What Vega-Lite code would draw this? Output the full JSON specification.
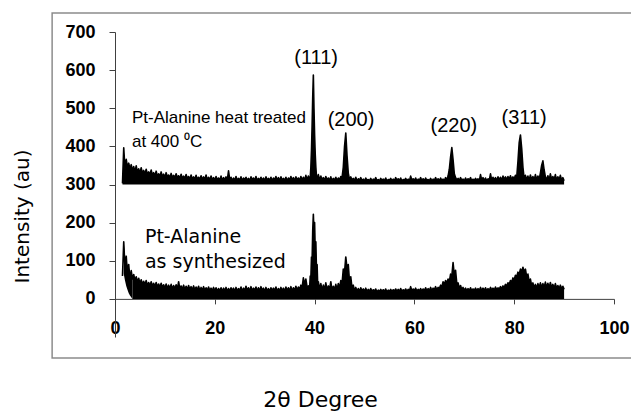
{
"$schema": "https://vega.github.io/schema/vega-lite/v6.json",
"width": 499, "height": 305,
"autosize": {"type": "none"},
"padding": {"left": 115, "top": 32, "right": 17, "bottom": 74},
"background": "white",
"config": {"view": {"stroke": null}, "axis": {"grid": false, "ticks": true, "tickWidth": 1, "domainWidth": 1, "domainColor": "#404040", "tickColor": "#404040", "labelColor": "#000000", "titleColor": "#000000", "labelFont": "Liberation Sans", "labelFontWeight": "bold", "labelFontSize": 18, "labelOverlap": false, "labelBound": false, "titleFont": "DejaVu Sans", "titleFontWeight": "normal"}},
"datasets": {
"xrd": [
{"x":1.5,"a":303,"b":60},{"x":1.75,"a":396,"b":150},{"x":2,"a":340,"b":80},{"x":2.25,"a":366,"b":112},{"x":2.5,"a":345,"b":62},{"x":2.75,"a":356,"b":90},
{"x":3,"a":340,"b":48},{"x":3.25,"a":352,"b":74},{"x":3.5,"a":336,"b":52},{"x":3.75,"a":347,"b":64},
{"x":4,"a":334,"b":48},{"x":4.25,"a":349,"b":58},{"x":4.5,"a":332,"b":44},{"x":4.75,"a":341,"b":54},
{"x":5,"a":330,"b":40},{"x":5.25,"a":344,"b":50},{"x":5.5,"a":328,"b":38},{"x":5.75,"a":337,"b":46},
{"x":6,"a":327,"b":36},{"x":6.25,"a":340,"b":48},{"x":6.5,"a":326,"b":35},{"x":6.75,"a":333,"b":43},
{"x":7,"a":325,"b":34},{"x":7.25,"a":338,"b":45},{"x":7.5,"a":324,"b":33},{"x":7.75,"a":331,"b":41},
{"x":8,"a":323,"b":32},{"x":8.25,"a":335,"b":43},{"x":8.5,"a":322,"b":31},{"x":8.75,"a":328,"b":39},
{"x":9,"a":321,"b":30},{"x":9.25,"a":333,"b":41},{"x":9.5,"a":320,"b":29},{"x":9.75,"a":327,"b":37},
{"x":10,"a":319,"b":28},{"x":10.25,"a":331,"b":39},{"x":10.5,"a":319,"b":27},{"x":10.75,"a":325,"b":36},
{"x":11,"a":318,"b":27},{"x":11.25,"a":329,"b":38},{"x":11.5,"a":318,"b":26},{"x":11.75,"a":324,"b":35},
{"x":12,"a":317,"b":26},{"x":12.25,"a":328,"b":37},{"x":12.5,"a":317,"b":25},{"x":12.75,"a":323,"b":45},
{"x":13,"a":316,"b":25},{"x":13.25,"a":327,"b":34},{"x":13.5,"a":316,"b":25},{"x":13.75,"a":322,"b":36},
{"x":14,"a":315,"b":24},{"x":14.25,"a":326,"b":33},{"x":14.5,"a":315,"b":24},{"x":14.75,"a":321,"b":35},
{"x":15,"a":314,"b":24},{"x":15.25,"a":325,"b":32},{"x":15.5,"a":314,"b":23},{"x":15.75,"a":320,"b":34},
{"x":16,"a":314,"b":23},{"x":16.25,"a":324,"b":31},{"x":16.5,"a":313,"b":23},{"x":16.75,"a":319,"b":33},
{"x":17,"a":313,"b":22},{"x":17.25,"a":323,"b":30},{"x":17.5,"a":313,"b":22},{"x":17.75,"a":320,"b":32},
{"x":18,"a":312,"b":22},{"x":18.25,"a":325,"b":29},{"x":18.5,"a":312,"b":22},{"x":18.75,"a":319,"b":31},
{"x":19,"a":312,"b":21},{"x":19.25,"a":322,"b":28},{"x":19.5,"a":312,"b":21},{"x":19.75,"a":318,"b":30},
{"x":20,"a":311,"b":21},{"x":20.25,"a":321,"b":29},{"x":20.5,"a":312,"b":20},{"x":20.75,"a":317,"b":27},
{"x":21,"a":311,"b":22},{"x":21.25,"a":322,"b":29},{"x":21.5,"a":310,"b":20},{"x":21.75,"a":318,"b":28},
{"x":22,"a":312,"b":21},{"x":22.25,"a":320,"b":30},{"x":22.5,"a":311,"b":20},{"x":22.75,"a":336,"b":27},
{"x":23,"a":312,"b":21},{"x":23.25,"a":319,"b":29},{"x":23.5,"a":310,"b":22},{"x":23.75,"a":317,"b":28},
{"x":24,"a":311,"b":20},{"x":24.25,"a":321,"b":30},{"x":24.5,"a":312,"b":21},{"x":24.75,"a":316,"b":27},
{"x":25,"a":311,"b":22},{"x":25.25,"a":320,"b":31},{"x":25.5,"a":310,"b":20},{"x":25.75,"a":317,"b":28},
{"x":26,"a":312,"b":21},{"x":26.25,"a":319,"b":33},{"x":26.5,"a":311,"b":22},{"x":26.75,"a":316,"b":29},
{"x":27,"a":310,"b":20},{"x":27.25,"a":320,"b":32},{"x":27.5,"a":312,"b":21},{"x":27.75,"a":317,"b":28},
{"x":28,"a":311,"b":22},{"x":28.25,"a":321,"b":31},{"x":28.5,"a":310,"b":20},{"x":28.75,"a":316,"b":29},
{"x":29,"a":312,"b":21},{"x":29.25,"a":319,"b":32},{"x":29.5,"a":311,"b":22},{"x":29.75,"a":317,"b":28},
{"x":30,"a":310,"b":20},{"x":30.25,"a":320,"b":30},{"x":30.5,"a":312,"b":21},{"x":30.75,"a":316,"b":27},
{"x":31,"a":311,"b":20},{"x":31.25,"a":319,"b":29},{"x":31.5,"a":310,"b":22},{"x":31.75,"a":317,"b":28},
{"x":32,"a":312,"b":21},{"x":32.25,"a":321,"b":31},{"x":32.5,"a":311,"b":20},{"x":32.75,"a":318,"b":27},
{"x":33,"a":310,"b":22},{"x":33.25,"a":320,"b":30},{"x":33.5,"a":312,"b":21},{"x":33.75,"a":316,"b":28},
{"x":34,"a":311,"b":20},{"x":34.25,"a":319,"b":31},{"x":34.5,"a":310,"b":22},{"x":34.75,"a":317,"b":29},
{"x":35,"a":312,"b":21},{"x":35.25,"a":321,"b":32},{"x":35.5,"a":311,"b":20},{"x":35.75,"a":318,"b":29},
{"x":36,"a":310,"b":22},{"x":36.25,"a":320,"b":33},{"x":36.5,"a":312,"b":23},{"x":36.75,"a":317,"b":31},
{"x":37,"a":311,"b":25},{"x":37.25,"a":321,"b":36},{"x":37.5,"a":312,"b":30},{"x":37.75,"a":319,"b":55},
{"x":38,"a":311,"b":38},{"x":38.25,"a":324,"b":52},{"x":38.5,"a":312,"b":30},{"x":38.75,"a":322,"b":34},
{"x":39,"a":314,"b":28},{"x":39.125,"a":318,"b":60},{"x":39.25,"a":345,"b":55},{"x":39.375,"a":390,"b":110},
{"x":39.5,"a":455,"b":100},{"x":39.625,"a":530,"b":180},{"x":39.75,"a":587,"b":222},{"x":39.875,"a":500,"b":175},
{"x":40,"a":430,"b":200},{"x":40.125,"a":380,"b":125},{"x":40.25,"a":345,"b":150},{"x":40.375,"a":322,"b":75},
{"x":40.5,"a":314,"b":90},{"x":40.625,"a":320,"b":35},{"x":40.75,"a":326,"b":45},
{"x":41,"a":311,"b":24},{"x":41.25,"a":322,"b":40},{"x":41.5,"a":312,"b":22},{"x":41.75,"a":318,"b":36},
{"x":42,"a":310,"b":25},{"x":42.25,"a":321,"b":42},{"x":42.5,"a":312,"b":23},{"x":42.75,"a":317,"b":34},
{"x":43,"a":311,"b":24},{"x":43.25,"a":320,"b":45},{"x":43.5,"a":310,"b":22},{"x":43.75,"a":316,"b":33},
{"x":44,"a":312,"b":25},{"x":44.25,"a":319,"b":38},{"x":44.5,"a":311,"b":24},{"x":44.75,"a":317,"b":40},
{"x":45,"a":312,"b":28},{"x":45.25,"a":321,"b":48},{"x":45.5,"a":318,"b":40},{"x":45.75,"a":345,"b":78},
{"x":46,"a":400,"b":70},{"x":46.25,"a":435,"b":110},{"x":46.5,"a":375,"b":80},{"x":46.75,"a":330,"b":90},
{"x":47,"a":312,"b":45},{"x":47.25,"a":320,"b":58},{"x":47.5,"a":311,"b":28},{"x":47.75,"a":316,"b":36},
{"x":48,"a":310,"b":21},{"x":48.25,"a":319,"b":30},{"x":48.5,"a":309,"b":20},{"x":48.75,"a":315,"b":27},
{"x":49,"a":311,"b":19},{"x":49.25,"a":318,"b":29},{"x":49.5,"a":310,"b":21},{"x":49.75,"a":314,"b":26},
{"x":50,"a":309,"b":20},{"x":50.25,"a":317,"b":28},{"x":50.5,"a":311,"b":19},{"x":50.75,"a":313,"b":25},
{"x":51,"a":310,"b":20},{"x":51.25,"a":316,"b":27},{"x":51.5,"a":309,"b":19},{"x":51.75,"a":314,"b":24},
{"x":52,"a":311,"b":20},{"x":52.25,"a":318,"b":26},{"x":52.5,"a":310,"b":18},{"x":52.75,"a":313,"b":23},
{"x":53,"a":309,"b":19},{"x":53.25,"a":316,"b":25},{"x":53.5,"a":311,"b":20},{"x":53.75,"a":314,"b":24},
{"x":54,"a":310,"b":19},{"x":54.25,"a":317,"b":26},{"x":54.5,"a":309,"b":18},{"x":54.75,"a":313,"b":23},
{"x":55,"a":311,"b":20},{"x":55.25,"a":316,"b":25},{"x":55.5,"a":310,"b":19},{"x":55.75,"a":314,"b":24},
{"x":56,"a":309,"b":20},{"x":56.25,"a":318,"b":26},{"x":56.5,"a":311,"b":19},{"x":56.75,"a":315,"b":25},
{"x":57,"a":310,"b":20},{"x":57.25,"a":317,"b":27},{"x":57.5,"a":309,"b":19},{"x":57.75,"a":313,"b":24},
{"x":58,"a":311,"b":20},{"x":58.25,"a":316,"b":26},{"x":58.5,"a":310,"b":19},{"x":58.75,"a":314,"b":25},
{"x":59,"a":309,"b":21},{"x":59.25,"a":322,"b":32},{"x":59.5,"a":311,"b":20},{"x":59.75,"a":315,"b":26},
{"x":60,"a":310,"b":21},{"x":60.25,"a":317,"b":28},{"x":60.5,"a":309,"b":20},{"x":60.75,"a":314,"b":25},
{"x":61,"a":311,"b":21},{"x":61.25,"a":318,"b":27},{"x":61.5,"a":310,"b":20},{"x":61.75,"a":315,"b":26},
{"x":62,"a":309,"b":22},{"x":62.25,"a":317,"b":29},{"x":62.5,"a":311,"b":21},{"x":62.75,"a":313,"b":27},
{"x":63,"a":310,"b":22},{"x":63.25,"a":316,"b":30},{"x":63.5,"a":309,"b":21},{"x":63.75,"a":314,"b":28},
{"x":64,"a":311,"b":24},{"x":64.25,"a":318,"b":32},{"x":64.5,"a":310,"b":23},{"x":64.75,"a":315,"b":30},
{"x":65,"a":309,"b":27},{"x":65.25,"a":317,"b":36},{"x":65.5,"a":311,"b":32},{"x":65.75,"a":314,"b":45},
{"x":66,"a":310,"b":38},{"x":66.25,"a":318,"b":48},{"x":66.5,"a":312,"b":42},{"x":66.75,"a":322,"b":52},
{"x":67,"a":340,"b":45},{"x":67.25,"a":372,"b":65},{"x":67.5,"a":397,"b":60},{"x":67.75,"a":365,"b":95},
{"x":68,"a":328,"b":62},{"x":68.25,"a":318,"b":75},{"x":68.5,"a":312,"b":40},{"x":68.75,"a":316,"b":42},
{"x":69,"a":310,"b":28},{"x":69.25,"a":318,"b":35},{"x":69.5,"a":311,"b":24},{"x":69.75,"a":314,"b":30},
{"x":70,"a":309,"b":22},{"x":70.25,"a":317,"b":28},{"x":70.5,"a":310,"b":21},{"x":70.75,"a":315,"b":27},
{"x":71,"a":311,"b":22},{"x":71.25,"a":318,"b":29},{"x":71.5,"a":309,"b":21},{"x":71.75,"a":314,"b":26},
{"x":72,"a":310,"b":22},{"x":72.25,"a":316,"b":28},{"x":72.5,"a":311,"b":21},{"x":72.75,"a":315,"b":27},
{"x":73,"a":309,"b":22},{"x":73.25,"a":326,"b":30},{"x":73.5,"a":311,"b":21},{"x":73.75,"a":318,"b":28},
{"x":74,"a":310,"b":22},{"x":74.25,"a":317,"b":29},{"x":74.5,"a":309,"b":21},{"x":74.75,"a":315,"b":27},
{"x":75,"a":311,"b":22},{"x":75.25,"a":328,"b":30},{"x":75.5,"a":310,"b":23},{"x":75.75,"a":319,"b":28},
{"x":76,"a":312,"b":22},{"x":76.25,"a":318,"b":31},{"x":76.5,"a":310,"b":24},{"x":76.75,"a":320,"b":29},
{"x":77,"a":312,"b":25},{"x":77.25,"a":319,"b":32},{"x":77.5,"a":311,"b":27},{"x":77.75,"a":322,"b":34},
{"x":78,"a":313,"b":30},{"x":78.25,"a":320,"b":38},{"x":78.5,"a":312,"b":34},{"x":78.75,"a":321,"b":42},
{"x":79,"a":314,"b":38},{"x":79.25,"a":323,"b":48},{"x":79.5,"a":312,"b":44},{"x":79.75,"a":320,"b":55},
{"x":80,"a":315,"b":50},{"x":80.25,"a":324,"b":62},{"x":80.5,"a":318,"b":58},{"x":80.75,"a":360,"b":70},
{"x":81,"a":410,"b":65},{"x":81.25,"a":430,"b":78},{"x":81.5,"a":395,"b":72},{"x":81.75,"a":345,"b":83},
{"x":82,"a":315,"b":70},{"x":82.25,"a":324,"b":78},{"x":82.5,"a":312,"b":58},{"x":82.75,"a":322,"b":65},
{"x":83,"a":311,"b":45},{"x":83.25,"a":325,"b":52},{"x":83.5,"a":312,"b":35},{"x":83.75,"a":321,"b":42},
{"x":84,"a":311,"b":28},{"x":84.25,"a":326,"b":38},{"x":84.5,"a":312,"b":28},{"x":84.75,"a":322,"b":40},
{"x":85,"a":313,"b":29},{"x":85.25,"a":330,"b":42},{"x":85.5,"a":350,"b":30},{"x":85.75,"a":362,"b":40},
{"x":86,"a":338,"b":30},{"x":86.25,"a":320,"b":44},{"x":86.5,"a":312,"b":29},{"x":86.75,"a":323,"b":41},
{"x":87,"a":311,"b":28},{"x":87.25,"a":328,"b":43},{"x":87.5,"a":313,"b":29},{"x":87.75,"a":321,"b":38},
{"x":88,"a":312,"b":27},{"x":88.25,"a":326,"b":40},{"x":88.5,"a":311,"b":28},{"x":88.75,"a":320,"b":35},
{"x":89,"a":312,"b":26},{"x":89.25,"a":324,"b":36},{"x":89.5,"a":311,"b":27},{"x":89.75,"a":318,"b":33},
{"x":90,"a":310,"b":25}
],
"start": [
{"x":1.75,"t":150,"u":66},{"x":2,"t":112,"u":48},{"x":2.25,"t":100,"u":34},{"x":2.5,"t":90,"u":24},
{"x":2.75,"t":82,"u":15},{"x":3,"t":74,"u":9},{"x":3.25,"t":66,"u":4},{"x":3.5,"t":60,"u":0}
],
"peaks": [
{"x":40.3,"y":632,"t":"(111)"},
{"x":47.3,"y":469,"t":"(200)"},
{"x":67.9,"y":454,"t":"(220)"},
{"x":82.0,"y":475,"t":"(311)"}
],
"heat": [
{"x":3.4,"y":475,"t":"Pt-Alanine heat treated"},
{"x":3.4,"y":412,"t":"at 400 ⁰C"}
],
"synth": [
{"x":6.0,"y":162.6,"t":"Pt-Alanine"},
{"x":6.0,"y":97,"t":"as synthesized"}
]
},
"layer": [
{"data": {"name": "xrd"},
 "transform": [{"fold": ["a", "b"], "as": ["s", "y"]}],
 "mark": {"type": "line", "color": "#000000", "strokeWidth": 1.6, "strokeJoin": "round"},
 "encoding": {
 "x": {"field": "x", "type": "quantitative", "scale": {"domain": [0, 100], "nice": false, "zero": false},
  "axis": {"title": "2θ Degree", "values": [0, 20, 40, 60, 80, 100], "offset": -38.125, "ticks": true, "tickSize": 5, "labelPadding": 16, "labelFlush": false, "labelOverlap": false, "titleFontSize": 22, "titleX": 205, "titleY": 101, "titleBaseline": "middle"}},
 "y": {"field": "y", "type": "quantitative", "scale": {"domain": [-100, 700], "nice": false, "zero": false},
  "axis": {"title": "Intensity (au)", "values": [0, 100, 200, 300, 400, 500, 600, 700], "ticks": true, "tickSize": 6, "labelPadding": 14, "labelOverlap": false, "titleFontSize": 20, "titleX": -93, "titleY": 184, "titleBaseline": "middle"}},
 "detail": {"field": "s"}}},
{"data": {"name": "xrd"},
 "mark": {"type": "area", "color": "#000000", "opacity": 1},
 "encoding": {"x": {"field": "x", "type": "quantitative"}, "y": {"field": "a", "type": "quantitative"}, "y2": {"datum": 300}}},
{"data": {"name": "xrd"},
 "transform": [{"filter": "datum.x >= 3.5"}],
 "mark": {"type": "area", "color": "#000000", "opacity": 1},
 "encoding": {"x": {"field": "x", "type": "quantitative"}, "y": {"field": "b", "type": "quantitative"}, "y2": {"datum": 0}}},
{"data": {"name": "start"},
 "mark": {"type": "area", "color": "#000000", "opacity": 1},
 "encoding": {"x": {"field": "x", "type": "quantitative"}, "y": {"field": "t", "type": "quantitative"}, "y2": {"field": "u"}}},
{"data": {"name": "peaks"},
 "mark": {"type": "text", "font": "Liberation Sans", "fontSize": 20, "align": "center", "baseline": "middle", "color": "#000000"},
 "encoding": {"x": {"field": "x", "type": "quantitative"}, "y": {"field": "y", "type": "quantitative"}, "text": {"field": "t"}}},
{"data": {"name": "heat"},
 "mark": {"type": "text", "font": "Liberation Sans", "fontSize": 17, "align": "left", "baseline": "middle", "color": "#000000"},
 "encoding": {"x": {"field": "x", "type": "quantitative"}, "y": {"field": "y", "type": "quantitative"}, "text": {"field": "t"}}},
{"data": {"name": "synth"},
 "mark": {"type": "text", "font": "DejaVu Sans", "fontSize": 19, "align": "left", "baseline": "middle", "color": "#000000"},
 "encoding": {"x": {"field": "x", "type": "quantitative"}, "y": {"field": "y", "type": "quantitative"}, "text": {"field": "t"}}},
{"data": {"values": [{}]},
 "mark": {"type": "rect", "filled": false, "stroke": "#8c8c8c", "strokeWidth": 1.5},
 "encoding": {
  "x": {"datum": -12.6},
  "x2": {"datum": 104},
  "y": {"datum": 750},
  "y2": {"datum": -154.8}}}
]
}
